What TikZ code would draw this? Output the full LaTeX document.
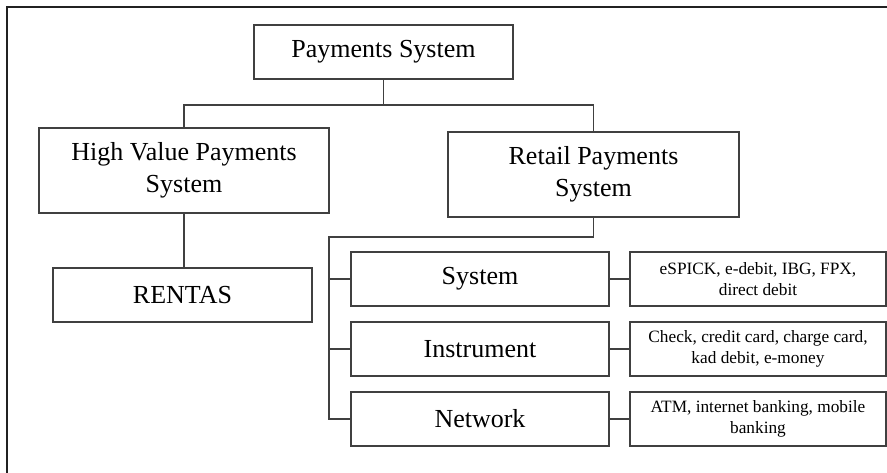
\documentclass[tikz,border=0pt]{standalone}
\usepackage{fontspec}
\setmainfont{Liberation Serif}
\usetikzlibrary{positioning}

\begin{document}
\begin{tikzpicture}[
                x=1pt, y=-1pt,
                every node/.style={draw=black!75, line width=1.2pt, align=center, inner sep=0pt},
                bigbox/.style={font=\fontsize{26}{32}\selectfont},
                smallbox/.style={font=\fontsize{17.3}{20.5}\selectfont, minimum width=256pt, minimum height=54pt},
                subbox/.style={bigbox, minimum width=258pt, minimum height=54pt},
                link/.style={draw=black!75, line width=1.2pt},
                frame/.style={draw=black!87, line width=2.3pt}
                ]
                \useasboundingbox (0,0) rectangle (887,472);
                \draw[frame] (7,480) -- (7,7) -- (895,7);

                % Define the nodes
                \node[bigbox, minimum width=259pt, minimum height=54pt] (ps) at (383.5,52) {Payments System};
                \node[bigbox, minimum width=290pt, minimum height=85pt] (hv) at (184,170.5) {High Value Payments\\System};
                \node[bigbox, minimum width=291pt, minimum height=85pt] (rp) at (593.5,174.5) {Retail Payments\\System};
                \node[bigbox, minimum width=259pt, minimum height=54pt] (rentas) at (182.5,295) {RENTAS};

                \node[subbox] (sys) at (480,279) {System};
                \node[subbox] (ins) at (480,349) {Instrument};
                \node[subbox] (net) at (480,419) {Network};

                \node[smallbox] (d1) at (758,279) {eSPICK, e-debit, IBG, FPX,\\direct debit};
                \node[smallbox] (d2) at (758,349) {Check, credit card, charge card,\\kad debit, e-money};
                \node[smallbox] (d3) at (758,419) {ATM, internet banking, mobile\\banking};

                \coordinate (top) at (383.5,105);
                \coordinate (bus) at (329,237);

                % Draw the connectors
                \draw[link] (ps) -- (top);
                \draw[link] (hv.north) |- (top) -| (rp.north);
                \draw[link] (hv.south) -- (hv.south |- rentas.north);
                \draw[link] (rp.south) |- (bus) |- (net.west);
                \draw[link] (sys.west -| bus) -- (sys.west);
                \draw[link] (ins.west -| bus) -- (ins.west);
                \draw[link] (sys) -- (d1);
                \draw[link] (ins) -- (d2);
                \draw[link] (net) -- (d3);
            \end{tikzpicture}
\end{document}
